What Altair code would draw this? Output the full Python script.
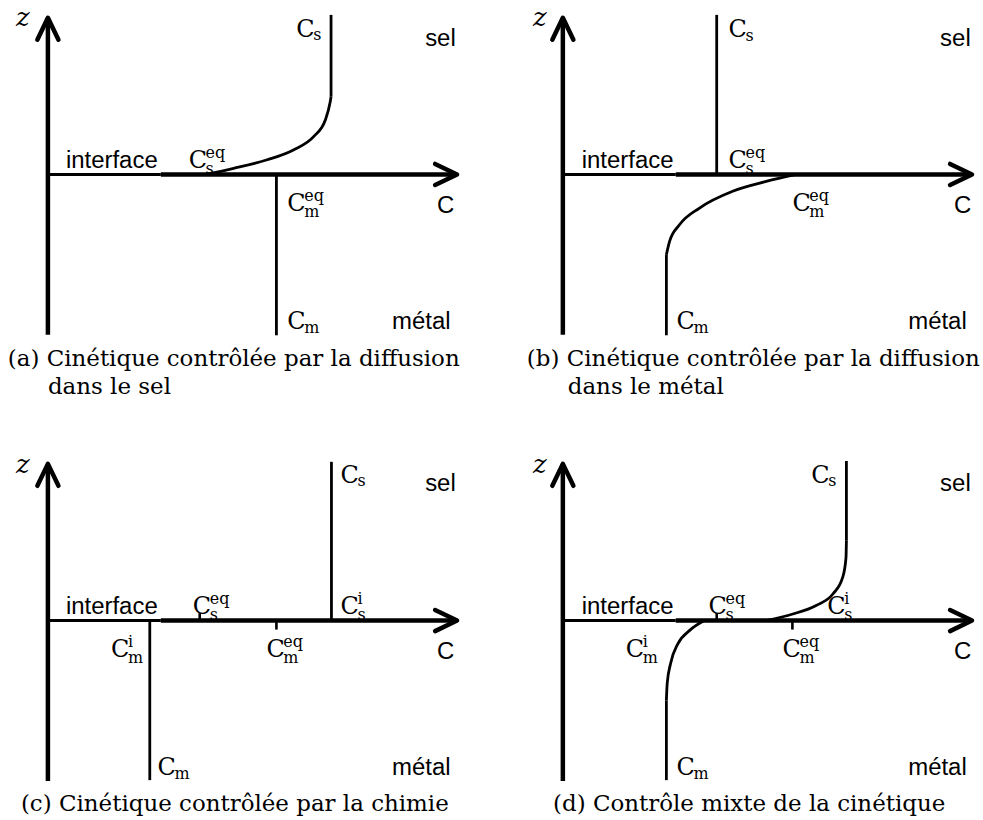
import altair as alt
import pandas as pd

# ---------------------------------------------------------------------------
# Geometry of one diagram (all panels share it)
# ---------------------------------------------------------------------------
PX = 41.0                      # pixels per diagram unit
PANEL_W, PANEL_H = 467, 373    # plot area of one panel, px
ORIGIN_X, ORIGIN_Y = 47, 173   # where (C=0, z=0) sits inside a panel, px

Z_AXIS_BOTTOM = -3.92
Z_AXIS_TIP = 3.83
C_AXIS_TIP = 10.0
INTERFACE_END = 2.76

PANELS = ["a", "b", "c", "d"]

# ---------------------------------------------------------------------------
# Data
# ---------------------------------------------------------------------------
# straight concentration profiles (vertical segments)
seg_panel = ["a", "a", "b", "b", "c", "c", "d", "d"]
seg_c = [5.585, 6.92, 3.76, 2.53, 6.93, 2.49, 6.93, 2.53]
seg_z0 = [0.0, 1.90, 0.0, -1.96, 0.0, 0.0, 1.95, -1.95]
seg_z1 = [-3.93, 3.90, 3.90, -3.93, 3.88, -3.90, 3.90, -3.90]

# equilibrium marks on the C axis
tick_panel = ["c", "c", "d", "d"]
tick_c = [3.71, 5.585, 3.76, 5.61]
tick_z = [0.18, -0.22, 0.18, -0.22]

# curved concentration profiles
curve_a_s_c = [3.85, 4.54, 5.36, 6.00, 6.50, 6.78, 6.90, 6.92]
curve_a_s_z = [0.00, 0.15, 0.36, 0.60, 0.93, 1.33, 1.78, 1.90]
curve_b_m_c = [2.53, 2.61, 2.85, 3.34, 4.15, 4.97, 5.70]
curve_b_m_z = [-1.96, -1.63, -1.23, -0.82, -0.41, -0.17, 0.00]
curve_d_s_c = [4.97, 5.62, 6.19, 6.60, 6.84, 6.92, 6.93]
curve_d_s_z = [0.00, 0.16, 0.37, 0.65, 1.06, 1.54, 1.95]
curve_d_m_c = [2.53, 2.55, 2.63, 2.81, 3.10, 3.46]
curve_d_m_z = [-1.95, -1.54, -1.06, -0.57, -0.24, 0.00]

# concentration labels  C_sub^sup
lab_panel = ["a", "a", "a", "a",
             "b", "b", "b", "b",
             "c", "c", "c", "c", "c", "c",
             "d", "d", "d", "d", "d", "d"]
lab_c = [6.07, 3.44, 5.85, 5.85,
         4.05, 4.05, 5.61, 2.78,
         7.15, 7.15, 3.54, 1.54, 5.34, 2.68,
         6.07, 6.46, 3.56, 1.54, 5.37, 2.78]
lab_z = [3.37, 0.17, -0.90, -3.78,
         3.35, 0.17, -0.90, -3.78,
         3.37, 0.17, 0.17, -0.90, -0.90, -3.78,
         3.37, 0.17, 0.17, -0.90, -0.90, -3.78]
lab_sub = ["s", "s", "m", "m",
           "s", "s", "m", "m",
           "s", "s", "s", "m", "m", "m",
           "s", "s", "s", "m", "m", "m"]
lab_sup = ["", "eq", "eq", "",
           "", "eq", "eq", "",
           "", "i", "eq", "i", "eq", "",
           "", "i", "eq", "i", "eq", ""]

# plain words inside the diagrams
word_text = ["sel", "métal", "interface", "C"]
word_c_left = [9.22, 8.41, 0.44, 9.51]    # panels a, c
word_c_right = [9.22, 8.44, 0.46, 9.56]   # panels b, d
word_z_top = [3.15, -3.78, 0.17, -0.93]   # panels a, b
word_z_bottom = [3.17, -3.78, 0.17, -0.93]  # panels c, d

# axis name z
zname_c = [-0.78, -0.73, -0.78, -0.73]
zname_z = [3.63, 3.63, 3.61, 3.61]

# sub-figure captions
cap_panel = ["a", "a", "b", "b", "c", "d"]
cap_text = ["(a) Cinétique contrôlée par la diffusion", "dans le sel",
            "(b) Cinétique contrôlée par la diffusion", "dans le métal",
            "(c) Cinétique contrôlée par la chimie",
            "(d) Contrôle mixte de la cinétique"]
cap_c = [-0.98, 0.0, -0.88, 0.12, -0.66, -0.24]
cap_z = [-4.68, -5.37, -4.68, -5.37, -4.66, -4.66]

# ---------------------------------------------------------------------------
# Tables
# ---------------------------------------------------------------------------
axes_df = pd.DataFrame({
    "c0": [0.0, INTERFACE_END], "c1": [0.0, C_AXIS_TIP],
    "z0": [Z_AXIS_BOTTOM, 0.0], "z1": [Z_AXIS_TIP, 0.0],
})
iface_df = pd.DataFrame({"c0": [0.0], "c1": [INTERFACE_END], "z0": [0.0], "z1": [0.0]})
htip_df = pd.DataFrame({"c": [C_AXIS_TIP], "z": [0.0]})
vtip_df = pd.DataFrame({"c": [0.0], "z": [Z_AXIS_TIP]})

seg_df = pd.DataFrame({"panel": seg_panel, "c": seg_c, "z0": seg_z0, "z1": seg_z1})
tick_df = pd.DataFrame({"panel": tick_panel, "c": tick_c, "z0": 0.0, "z1": tick_z})

curve_frames = []
for name, panel, cs, zs in [("a_s", "a", curve_a_s_c, curve_a_s_z),
                            ("b_m", "b", curve_b_m_c, curve_b_m_z),
                            ("d_s", "d", curve_d_s_c, curve_d_s_z),
                            ("d_m", "d", curve_d_m_c, curve_d_m_z)]:
    curve_frames.append(pd.DataFrame({"curve": name, "panel": panel, "c": cs, "z": zs}))
curve_df = pd.concat(curve_frames, ignore_index=True)

lab_df = pd.DataFrame({"panel": lab_panel, "c": lab_c, "z": lab_z,
                       "sub": lab_sub, "sup": lab_sup, "main": "C"})

word_rows = []
for p in PANELS:
    cs = word_c_left if p in ("a", "c") else word_c_right
    zs = word_z_top if p in ("a", "b") else word_z_bottom
    for t, c, z in zip(word_text, cs, zs):
        word_rows.append({"panel": p, "text": t, "c": c, "z": z})
word_df = pd.DataFrame(word_rows)

zname_df = pd.DataFrame({"panel": PANELS, "c": zname_c, "z": zname_z, "text": "z"})
cap_df = pd.DataFrame({"panel": cap_panel, "text": cap_text, "c": cap_c, "z": cap_z})

# ---------------------------------------------------------------------------
# Styling
# ---------------------------------------------------------------------------
SANS = "Liberation Sans"
SERIF = "DejaVu Serif"
INK = "#000000"
CHEVRON = "M -1 -0.48 L 0 0 L -1 0.48"
MAIN_SIZE, SCRIPT_SIZE, SCRIPT_DX = 24, 16, 17

xscale = alt.Scale(domain=[-ORIGIN_X / PX, (PANEL_W - ORIGIN_X) / PX], nice=False, zero=False)
yscale = alt.Scale(domain=[(ORIGIN_Y - PANEL_H) / PX, ORIGIN_Y / PX], nice=False, zero=False)


def X(field):
    return alt.X(field, type="quantitative", scale=xscale, axis=None)


def Y(field):
    return alt.Y(field, type="quantitative", scale=yscale, axis=None)


def panel_chart(p):
    base_seg = seg_df[seg_df.panel == p]
    layers = []

    layers.append(alt.Chart(iface_df).mark_rule(color=INK, strokeWidth=3, strokeCap="butt").encode(
        x=X("c0"), x2="c1", y=Y("z0"), y2="z1"))
    layers.append(alt.Chart(axes_df).mark_rule(color=INK, strokeWidth=4.5, strokeCap="butt").encode(
        x=X("c0"), x2="c1", y=Y("z0"), y2="z1"))
    layers.append(alt.Chart(htip_df).mark_point(
        shape=CHEVRON, size=1936, filled=False, color=INK, opacity=1,
        strokeWidth=4.5, strokeJoin="round", strokeCap="round").encode(x=X("c"), y=Y("z")))
    layers.append(alt.Chart(vtip_df).mark_point(
        shape=CHEVRON, size=1936, filled=False, color=INK, opacity=1, angle=270,
        strokeWidth=4.5, strokeJoin="round", strokeCap="round").encode(x=X("c"), y=Y("z")))

    if len(base_seg):
        layers.append(alt.Chart(base_seg).mark_rule(color=INK, strokeWidth=2.8, strokeCap="butt").encode(
            x=X("c"), y=Y("z0"), y2="z1"))
    tk = tick_df[tick_df.panel == p]
    if len(tk):
        layers.append(alt.Chart(tk).mark_rule(color=INK, strokeWidth=2.6, strokeCap="butt").encode(
            x=X("c"), y=Y("z0"), y2="z1"))
    cv = curve_df[curve_df.panel == p]
    if len(cv):
        layers.append(alt.Chart(cv).mark_line(color=INK, strokeWidth=2.8, interpolate="monotone").encode(
            x=X("c"), y=Y("z"), detail="curve:N", order="c:Q"))

    lb = lab_df[lab_df.panel == p]
    layers.append(alt.Chart(lb).mark_text(
        font=SERIF, fontSize=MAIN_SIZE, align="left", baseline="alphabetic", color=INK).encode(
        x=X("c"), y=Y("z"), text="main:N"))
    with_sup = lb[lb["sup"] != ""]
    no_sup = lb[lb["sup"] == ""]
    if len(with_sup):
        layers.append(alt.Chart(with_sup).mark_text(
            font=SERIF, fontSize=SCRIPT_SIZE, align="left", baseline="alphabetic", color=INK,
            dx=SCRIPT_DX, dy=6).encode(x=X("c"), y=Y("z"), text="sub:N"))
        layers.append(alt.Chart(with_sup).mark_text(
            font=SERIF, fontSize=SCRIPT_SIZE, align="left", baseline="alphabetic", color=INK,
            dx=SCRIPT_DX, dy=-10).encode(x=X("c"), y=Y("z"), text="sup:N"))
    if len(no_sup):
        layers.append(alt.Chart(no_sup).mark_text(
            font=SERIF, fontSize=SCRIPT_SIZE, align="left", baseline="alphabetic", color=INK,
            dx=SCRIPT_DX, dy=3.5).encode(x=X("c"), y=Y("z"), text="sub:N"))

    layers.append(alt.Chart(word_df[word_df.panel == p]).mark_text(
        font=SANS, fontSize=24, align="left", baseline="alphabetic", color=INK).encode(
        x=X("c"), y=Y("z"), text="text:N"))
    layers.append(alt.Chart(zname_df[zname_df.panel == p]).mark_text(
        font=SERIF, fontSize=26, fontStyle="italic", align="left", baseline="alphabetic", color=INK).encode(
        x=X("c"), y=Y("z"), text="text:N"))
    layers.append(alt.Chart(cap_df[cap_df.panel == p]).mark_text(
        font=SERIF, fontSize=23, align="left", baseline="alphabetic", color=INK).encode(
        x=X("c"), y=Y("z"), text="text:N"))

    return alt.layer(*layers).properties(width=PANEL_W, height=PANEL_H)


chart = alt.concat(
    *[panel_chart(p) for p in PANELS],
    columns=2,
    spacing=alt.RowColnumber(row=74, column=49),
    bounds="flush",
).properties(
    padding=0,
    background="white",
).configure_view(
    stroke="transparent",
)

chart.save("out.html", embed_options={"renderer": "svg", "actions": False})
